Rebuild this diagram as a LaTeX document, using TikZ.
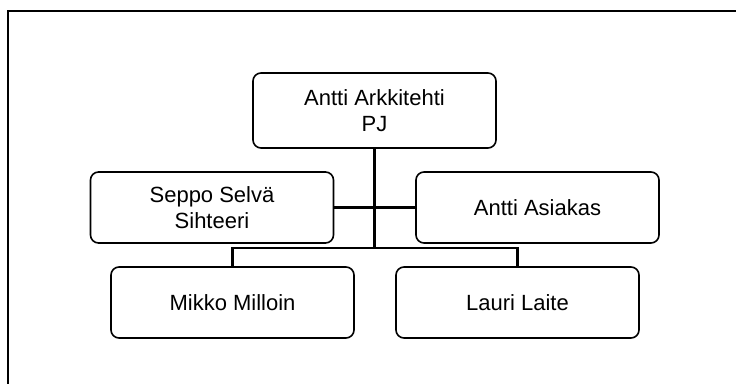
\documentclass[tikz,border=0pt]{standalone}
\usepackage{fontspec}
\setmainfont{Liberation Sans}
\begin{document}
\begin{tikzpicture}[x=1pt,y=-1pt,
  person/.style={draw, line width=1.6pt, rounded corners=8pt, minimum width=243pt,
    minimum height=71pt, align=center, inner sep=0pt,
    font=\fontsize{22}{26.5}\selectfont},
  link/.style={line width=2.2pt}]
  \useasboundingbox (0,0) rectangle (736,383);
  % page frame (only top and left edges fall inside the picture)
  \draw[line width=2pt] (7.7,390) -- (7.7,10.5) -- (745,10.5);
  % people
  \node[person, minimum height=75pt] (pj) at (374.5,110.5) {Antti Arkkitehti\\PJ};
  \node[person] (seppo) at (212,207.5) {Seppo Selvä\\Sihteeri};
  \node[person] (asiakas) at (537.5,207.5) {Antti Asiakas};
  \node[person] (mikko) at (232.5,302.5) {Mikko Milloin};
  \node[person] (lauri) at (517.5,302.5) {Lauri Laite};
  % connectors
  \coordinate (bus) at (pj.south |- 0,248);
  \draw[link] (pj.south) -- (bus);
  \draw[link] (seppo.east) -- (asiakas.west);
  \draw[link] (mikko.north) |- (bus) -| (lauri.north);
\end{tikzpicture}
\end{document}
